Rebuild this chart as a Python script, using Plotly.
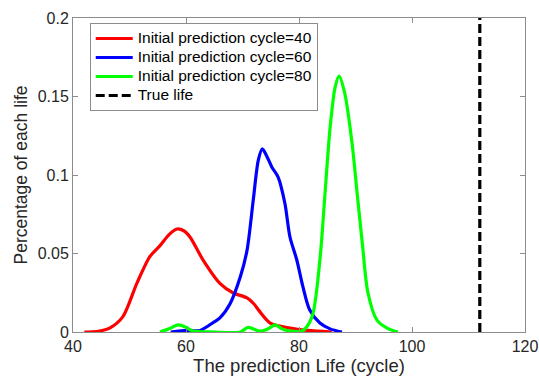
import plotly.graph_objects as go

# Data
x40 = [42.0, 44.5, 46.5, 48.8, 51.3, 53.6, 55.4, 57.0, 58.4, 59.6, 60.7, 63.0, 66.0, 68.3, 70.8, 72.0, 73.1, 74.9, 78.4, 81.5, 85.8]
y40 = [0.0, 0.0005, 0.0025, 0.0096, 0.031, 0.048, 0.055, 0.062, 0.0656, 0.0645, 0.0605, 0.046, 0.031, 0.025, 0.0217, 0.018, 0.0128, 0.0057, 0.0025, 0.001, 0.0]

x60 = [57.3, 60.2, 62.5, 64.8, 66.0, 67.8, 69.6, 70.8, 71.9, 72.8, 73.5, 74.3, 75.2, 76.3, 77.5, 78.4, 79.6, 80.7, 81.9, 83.7, 85.5, 87.6]
y60 = [0.0, 0.001, 0.001, 0.006, 0.009, 0.018, 0.035, 0.052, 0.084, 0.1095, 0.1166, 0.112, 0.105, 0.0987, 0.082, 0.0605, 0.046, 0.0287, 0.014, 0.0057, 0.002, 0.0]

x80 = [55.4, 57.0, 58.6, 60.0, 61.2, 65.0, 69.6, 71.0, 73.0, 74.5, 75.8, 77.0, 78.4, 80.7, 82.3, 83.7, 84.6, 85.5, 86.4, 87.1, 88.1, 89.4, 90.3, 91.2, 92.2, 93.8, 95.6, 97.5]
y80 = [0.0, 0.002, 0.0045, 0.003, 0.0006, 0.0, 0.0, 0.003, 0.0005, 0.002, 0.0045, 0.002, 0.0006, 0.001, 0.0096, 0.046, 0.088, 0.13, 0.156, 0.163, 0.152, 0.12, 0.088, 0.0567, 0.025, 0.0076, 0.0025, 0.0]

true_life = 112
y_range = [0, 0.2]
x_range = [40, 120]
x_ticks = [40, 60, 80, 100, 120]
y_ticks = [0, 0.05, 0.1, 0.15, 0.2]
y_tick_labels = ["0", "0.05", "0.1", "0.15", "0.2"]
series_names = ["Initial prediction cycle=40", "Initial prediction cycle=60",
                "Initial prediction cycle=80", "True life"]

FONT = "Liberation Sans, Arial"


def legend_name(s):
    # larger visible text while keeping compact legend row spacing
    return '<span style="font-size:15.5px">' + s + '</span>'


fig = go.Figure()
fig.add_trace(go.Scatter(x=x40, y=y40, mode="lines", name=legend_name(series_names[0]),
                         line=dict(color="#ff0000", width=3.2, shape="spline", smoothing=0.8)))
fig.add_trace(go.Scatter(x=x60, y=y60, mode="lines", name=legend_name(series_names[1]),
                         line=dict(color="#0000ff", width=3.2, shape="spline", smoothing=0.8)))
fig.add_trace(go.Scatter(x=x80, y=y80, mode="lines", name=legend_name(series_names[2]),
                         line=dict(color="#00ff00", width=3.2, shape="spline", smoothing=0.8)))
fig.add_trace(go.Scatter(x=[true_life, true_life], y=y_range, mode="lines", name=legend_name(series_names[3]),
                         line=dict(color="#000000", width=3.2, dash="9px,4px")))

axis_common = dict(showline=True, linecolor="#8c8c8c", linewidth=1, mirror="ticks",
                   ticks="inside", ticklen=5, tickcolor="#8c8c8c", showgrid=False, zeroline=False,
                   automargin=False,
                   tickfont=dict(family=FONT, size=16, color="#262626"))

fig.update_layout(
    width=539, height=383,
    margin=dict(l=73, r=14, t=18, b=51),
    paper_bgcolor="white", plot_bgcolor="white",
    showlegend=True,
    legend=dict(x=0.037, y=0.984, xanchor="left", yanchor="top",
                bordercolor="#8c8c8c", borderwidth=1, bgcolor="white",
                font=dict(family=FONT, size=12, color="#000000"),
                tracegroupgap=0, itemwidth=37),
    xaxis=dict(range=x_range, tickvals=x_ticks, **axis_common,
               title=dict(text="The prediction Life (cycle)", standoff=4,
                          font=dict(family=FONT, size=18.5, color="#262626"))),
    yaxis=dict(range=y_range, tickvals=y_ticks, ticktext=y_tick_labels, **axis_common,
               title=dict(text="Percentage of each life", standoff=5,
                          font=dict(family=FONT, size=17.5, color="#262626"))),
)

# Remove the default page margin so the figure fills the window exactly
fig.write_html("out.html", config={"displayModeBar": False},
               post_script="document.body.style.margin='0';document.body.style.overflow='hidden';")
